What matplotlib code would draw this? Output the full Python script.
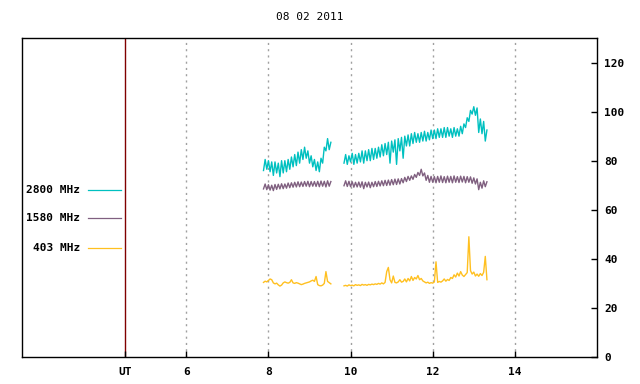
import numpy as np
import matplotlib
matplotlib.use("Agg")
import matplotlib.pyplot as plt
from matplotlib.lines import Line2D

plt.rcParams['font.family'] = ['DejaVu Sans Mono']
plt.rcParams['font.weight'] = 'bold'

title = "08 02 2011"
step = 0.04          # hours between samples
start_a = 7.88       # first block of data
start_b = 9.84       # second block of data

# 2800 MHz
c_a = [76, 80.5, 76.5, 80, 75.5, 79.5, 74, 79.5, 75, 79, 73.5, 80, 75, 80, 75.5, 80.5, 76.5,
       81.5, 77.5, 82.5, 78, 83.5, 79, 84.5, 80.5, 85.5, 81, 84, 79, 82, 77.5, 80.5, 76, 79.5,
       75.5, 81, 79, 85.5, 84, 89, 84.5, 87.5]
c_b = [79, 82.5, 78.5, 82, 79.5, 83, 78.5, 82.5, 79, 83,
       79.5, 84, 79, 84, 80, 84.5, 80, 85, 80.5, 85,
       81, 85.5, 81.5, 86.5, 82, 87, 82.5, 87.5, 79, 88,
       83.5, 88.5, 78.5, 89, 84, 89.5, 81, 90, 86, 90.5,
       86, 91, 87, 91.5, 87.5, 91, 87.5, 91.5, 88, 92,
       88, 91.5, 88.5, 92.5, 89, 92.5, 89, 93, 89.5, 93,
       89.5, 93.5, 89.5, 93.5, 90, 93, 89.5, 93.5, 90, 93,
       90, 94, 91, 95, 93.5, 97.5, 96, 100.5, 99, 102,
       98.5, 101.5, 91.5, 97, 91, 96, 88, 92.5]

# 1580 MHz
p_a = [68.5, 70.5, 68.2, 70.2, 68, 70, 67.8, 70.3, 68.3, 70.4, 68.5, 70.6, 68.6, 70.5, 68.8,
       70.9, 69, 71, 69.2, 71.2, 69.3, 71.4, 69.4, 71.3, 69.5, 71.5, 69.6, 71.6, 69.4, 71.5,
       69.6, 71.5, 69.5, 71.6, 69.4, 71.7, 69.6, 71.6, 69.3, 71.8, 69.6, 71.5]
p_b = [69.8, 71.8, 69.5, 71.6, 69.4, 71.4, 69.2, 71.2, 69.3, 71.3,
       69.2, 71.4, 68.6, 71.2, 69.3, 71.3, 69, 71.2, 69.4, 71.5,
       69.5, 71.6, 69.7, 71.8, 69.8, 72, 69.9, 72.1, 70, 72.3,
       70.2, 72.5, 70.3, 72.6, 70.5, 72.7, 71, 73.2, 71.5, 73.6,
       72, 73.8, 72.4, 74.4, 73.2, 75.2, 74, 76.5, 73.8, 75,
       72, 74, 71.2, 73.6, 71.2, 73.5, 71, 73.6, 71.2, 73.8,
       71.1, 73.5, 71, 73.7, 71.2, 73.6, 71, 73.8, 71.2, 73.5,
       71.1, 73.7, 71.3, 73.6, 71, 73.5, 71.2, 73.4, 70.8, 73,
       70.5, 72.6, 68.2, 71.2, 68.8, 71.8, 69.4, 71.4]

# 403 MHz
o_a = [30.4, 30.9, 30.6, 31.2, 31.8, 31.5, 30.2, 29.8, 30.1, 29.4, 28.9, 29.3, 30.2, 30.6,
       30.3, 30.1, 30.4, 31.5, 30.2, 30, 30.3, 30.1, 29.8, 29.5, 29.7, 30, 30.2, 30.4, 30.6,
       31, 31.3, 30.8, 32.8, 29.5, 29.1, 29, 29.3, 30, 34.8, 30.8, 30.3, 29.8]
o_b = [29, 29.2, 28.9, 29.4, 29.1, 29.3, 29, 29.5, 29.2, 29.4,
       29.1, 29.6, 29.3, 29.5, 29.2, 29.6, 29.4, 29.7, 29.5, 29.8,
       29.6, 30, 29.7, 30.2, 29.8, 30.4, 34.8, 36.5, 31.5, 30.2,
       33, 30.4, 30.2, 30.6, 31.5, 30.5, 30.8, 31.8, 30.6, 32,
       31, 32.8, 31.2, 32.4, 31.8, 33.2, 31.5, 32, 31, 30.6,
       30.2, 30.5, 30, 30.3, 30.1, 30.6, 38.8, 30.4, 30.8, 30.5,
       31, 31.8, 30.9, 31.6, 31.2, 32.4, 32, 33.5, 32.6, 34.2,
       33, 34.8, 33.4, 32.8, 33.6, 34.4, 49, 35.2, 33.8, 34.6,
       33, 33.8, 32.9, 34, 33.2, 34.5, 41, 31.5]

series = [("2800 MHz", "#00c0c0", c_a, c_b),
          ("1580 MHz", "#806080", p_a, p_b),
          ("403 MHz", "#ffc020", o_a, o_b)]

xticks = [4.5, 6, 8, 10, 12, 14]
xticklabels = ["UT", "6", "8", "10", "12", "14"]
yticks = [0, 20, 40, 60, 80, 100, 120]

fig = plt.figure(figsize=(6.4, 3.84), dpi=100)
ax = fig.add_axes([22 / 640, 27 / 384, 575 / 640, 319 / 384])

for name, col, va, vb in series:
    ta = start_a + step * np.arange(len(va))
    tb = start_b + step * np.arange(len(vb))
    ax.plot(ta, va, color=col, lw=1.0)
    ax.plot(tb, vb, color=col, lw=1.0)

ax.set_xlim(2, 16)
ax.set_ylim(0, 130)

# vertical dotted grid at hour ticks
for h in xticks[1:]:
    ax.axvline(h, color="#a0a0a0", lw=1, ls=(0, (1.5, 3)), zorder=0)
ax.axvline(4.5, color="#800000", lw=1, zorder=1)

ax.set_xticks(xticks)
ax.set_xticklabels(xticklabels)
ax.set_yticks(yticks)
ax.yaxis.tick_right()
ax.tick_params(axis="both", direction="in", length=4, width=1, labelsize=8, color="black")
ax.tick_params(axis="x", pad=7)
ax.tick_params(axis="y", pad=5, left=False)
for s in ax.spines.values():
    s.set_linewidth(1)

ax.set_title(title, fontsize=8, pad=13)

# key in the left margin
key_y = [0.525, 0.437, 0.342]
for (name, col, _, _), ky in zip(series, key_y):
    ax.text(0.101, ky, name, transform=ax.transAxes, ha="right", va="center", fontsize=8)
    ax.add_line(Line2D([0.115, 0.172], [ky, ky], transform=ax.transAxes, color=col, lw=0.9))

fig.savefig("out.png", dpi=100)
